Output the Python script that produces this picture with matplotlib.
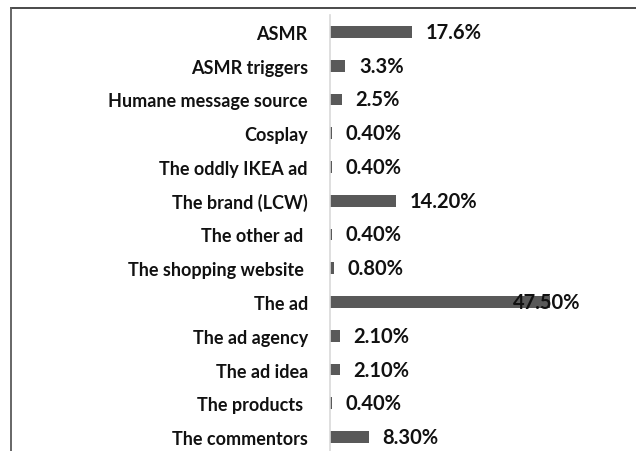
import matplotlib
matplotlib.use("Agg")
import matplotlib.pyplot as plt
from matplotlib.lines import Line2D

categories = [
    "ASMR",
    "ASMR triggers",
    "Humane message source",
    "Cosplay",
    "The oddly IKEA ad",
    "The brand (LCW)",
    "The other ad ",
    "The shopping website ",
    "The ad",
    "The ad agency",
    "The ad idea",
    "The products ",
    "The commentors",
]
values = [17.6, 3.3, 2.5, 0.4, 0.4, 14.2, 0.4, 0.8, 47.5, 2.1, 2.1, 0.4, 8.3]
value_labels = [
    "17.6%", "3.3%", "2.5%", "0.40%", "0.40%", "14.20%", "0.40%",
    "0.80%", "47.50%", "2.10%", "2.10%", "0.40%", "8.30%",
]

plt.rcParams["font.family"] = ["Lato", "DejaVu Sans"]
text_color = "#111111"

W, H = 636, 452
fig = plt.figure(figsize=(W / 100, H / 100), dpi=100)
# plot area in pixel terms: x 330..580, y 16..455
ax = fig.add_axes([330 / W, -3 / H, 250 / W, 439 / H])

ypos = list(range(len(categories)))
ax.barh(ypos, values, height=0.35, color="#595959")
ax.set_ylim(len(categories) - 0.5, -0.5)
ax.set_xlim(0, 250 / 4.64)

ax.set_yticks(ypos)
ax.set_yticklabels(categories, fontsize=13, fontweight="bold", color=text_color)
ax.tick_params(axis="y", length=0, pad=16)
ax.set_xticks([])
for side in ["top", "right", "bottom"]:
    ax.spines[side].set_visible(False)
ax.spines["left"].set_color("#d9d9d9")
ax.spines["left"].set_linewidth(1.2)

vmax = max(values)
for y, v, lab in zip(ypos, values, value_labels):
    if v == vmax:
        # label pushed inside the plot area like the original
        ax.annotate(lab, xy=(1.0, y), xycoords=("axes fraction", "data"),
                    ha="right", va="center", fontsize=14.5, fontweight="bold",
                    color=text_color, annotation_clip=False)
    else:
        ax.annotate(lab, xy=(v, y), xytext=(10, 0), textcoords="offset points",
                    ha="left", va="center", fontsize=14.5, fontweight="bold",
                    color=text_color, annotation_clip=False)

# outer frame (top and left edges only visible)
fig.add_artist(Line2D([11 / W, 1], [1 - 9 / H, 1 - 9 / H], color="#3a3a3a", lw=1.3,
                      transform=fig.transFigure))
fig.add_artist(Line2D([11 / W, 11 / W], [0, 1 - 9 / H], color="#5a5a5a", lw=1.3,
                      transform=fig.transFigure))

fig.savefig("out.png", dpi=100, facecolor="white")
